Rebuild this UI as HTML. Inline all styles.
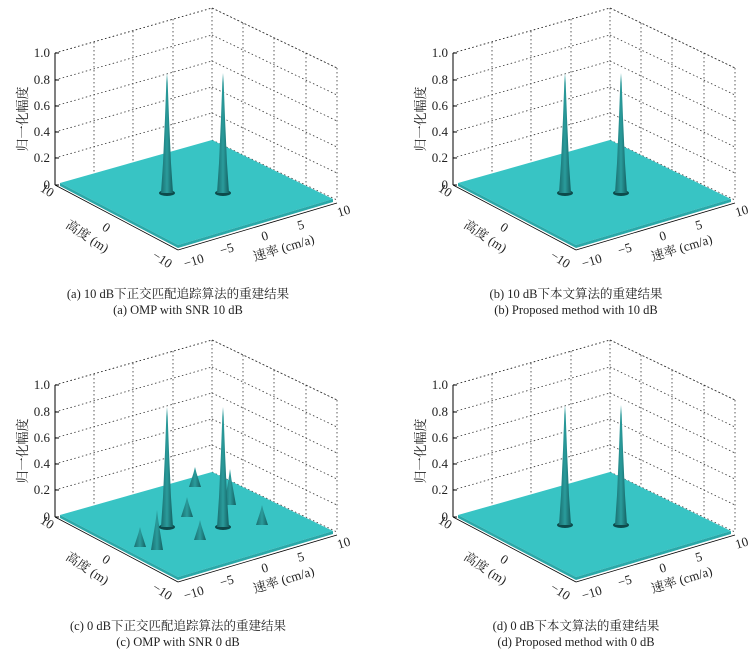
<!DOCTYPE html>
<html><head><meta charset="utf-8"><style>
html,body{margin:0;padding:0;background:#fff;}
svg{display:block;font-family:"Liberation Serif","Noto Serif CJK SC",serif;}
.t{font-size:13px;fill:#222;}
.c{font-size:12.5px;fill:#222;}
</style></head><body>
<svg width="753" height="657" viewBox="0 0 753 657">
<defs>
<linearGradient id="sp" x1="0" x2="1" y1="0" y2="0">
<stop offset="0" stop-color="#1a6f70"/><stop offset="0.5" stop-color="#2a9c9c"/><stop offset="1" stop-color="#145f60"/>
</linearGradient>
<g id="box">
<g stroke="#333" stroke-width="0.8" stroke-dasharray="1.5,2.5" fill="none">
<path d="M55 53L212 8M55 80L212 35M55 106L212 61M55 132L212 87M55 158L212 113"/>
<path d="M212 8L337 68M212 35L337 95M212 61L337 121M212 87L337 147M212 113L337 173M212 140L337 200"/>
<path d="M212 8V140M337 68V200M94 42V174M133 31V163M173 19V151M243 23V155M274 38V170M306 53V185"/>
<path d="M55 53L212 8L337 68"/>
</g>
<polygon points="60,183 212,140 333,199 178,245" fill="#38c4c4"/>
<polygon points="60,183 178,245 333,199 333,202 178,248 60,186" fill="#2aa8a8"/>
<path d="M55 53V185" stroke="#000" stroke-width="1"/>
<path d="M55 53h4M55 80h4M55 106h4M55 132h4M55 158h4M55 185h4" stroke="#000"/>
<path d="M55 185L178 250M178 250L337 203" stroke="#000" stroke-width="0.8"/>
<text class="t" x="50" y="57" text-anchor="end">1.0</text>
<text class="t" x="50" y="84" text-anchor="end">0.8</text>
<text class="t" x="50" y="110" text-anchor="end">0.6</text>
<text class="t" x="50" y="136" text-anchor="end">0.4</text>
<text class="t" x="50" y="162" text-anchor="end">0.2</text>
<text class="t" x="50" y="189" text-anchor="end">0</text>
<text class="t" transform="translate(27,119) rotate(-90)" text-anchor="middle">归一化幅度</text>
<text class="t" transform="translate(45,194) rotate(33)" text-anchor="middle">10</text>
<text class="t" transform="translate(104,231) rotate(33)" text-anchor="middle">0</text>
<text class="t" transform="translate(160,263) rotate(33)" text-anchor="middle">−10</text>
<text class="t" transform="translate(85,240) rotate(33)" text-anchor="middle">高度 (m)</text>
<text class="t" transform="translate(195,265) rotate(-17)" text-anchor="middle">−10</text>
<text class="t" transform="translate(228,253) rotate(-17)" text-anchor="middle">−5</text>
<text class="t" transform="translate(266,240) rotate(-17)" text-anchor="middle">0</text>
<text class="t" transform="translate(302,229) rotate(-17)" text-anchor="middle">5</text>
<text class="t" transform="translate(345,215) rotate(-17)" text-anchor="middle">10</text>
<text class="t" transform="translate(285,252) rotate(-17)" text-anchor="middle">速率 (cm/a)</text>
</g>
<g id="pk">
<ellipse cx="0" cy="0" rx="8" ry="3" fill="#0d4a4b"/>
<polygon points="-6,0 -4,-30 -2,-75 -0.7,-110 0,-120 0.7,-110 2,-75 4,-30 6,0" fill="url(#sp)"/>
</g>
<g id="sm">
<polygon points="-6,0 -1.5,-14 0,-20 1.5,-14 6,0" fill="url(#sp)"/>
</g>
</defs>

<use href="#box"/>
<use href="#pk" x="167" y="193"/>
<use href="#pk" x="223" y="193"/>
<text class="c" x="178" y="298" text-anchor="middle">(a) 10 dB下正交匹配追踪算法的重建结果</text>
<text class="c" x="178" y="314" text-anchor="middle">(a) OMP with SNR 10 dB</text>

<g transform="translate(398,0)">
<use href="#box"/>
<use href="#pk" x="167" y="193"/>
<use href="#pk" x="223" y="193"/>
<text class="c" x="178" y="298" text-anchor="middle">(b) 10 dB下本文算法的重建结果</text>
<text class="c" x="178" y="314" text-anchor="middle">(b) Proposed method with 10 dB</text>
</g>

<g transform="translate(0,332)">
<use href="#box"/>
<use href="#sm" x="195" y="155"/>
<use href="#sm" x="262" y="193"/>
<use href="#sm" x="187" y="185"/>
<use href="#sm" x="200" y="208"/>
<use href="#sm" x="140" y="215"/>
<g transform="translate(230,173) scale(1,1.8)"><use href="#sm"/></g>
<g transform="translate(157,218) scale(1,2)"><use href="#sm"/></g>
<use href="#pk" x="167" y="195"/>
<use href="#pk" x="223" y="195"/>
<text class="c" x="178" y="298" text-anchor="middle">(c) 0 dB下正交匹配追踪算法的重建结果</text>
<text class="c" x="178" y="314" text-anchor="middle">(c) OMP with SNR 0 dB</text>
</g>

<g transform="translate(398,332)">
<use href="#box"/>
<use href="#pk" x="167" y="193"/>
<use href="#pk" x="223" y="193"/>
<text class="c" x="178" y="298" text-anchor="middle">(d) 0 dB下本文算法的重建结果</text>
<text class="c" x="178" y="314" text-anchor="middle">(d) Proposed method with 0 dB</text>
</g>
</svg>
</body></html>
